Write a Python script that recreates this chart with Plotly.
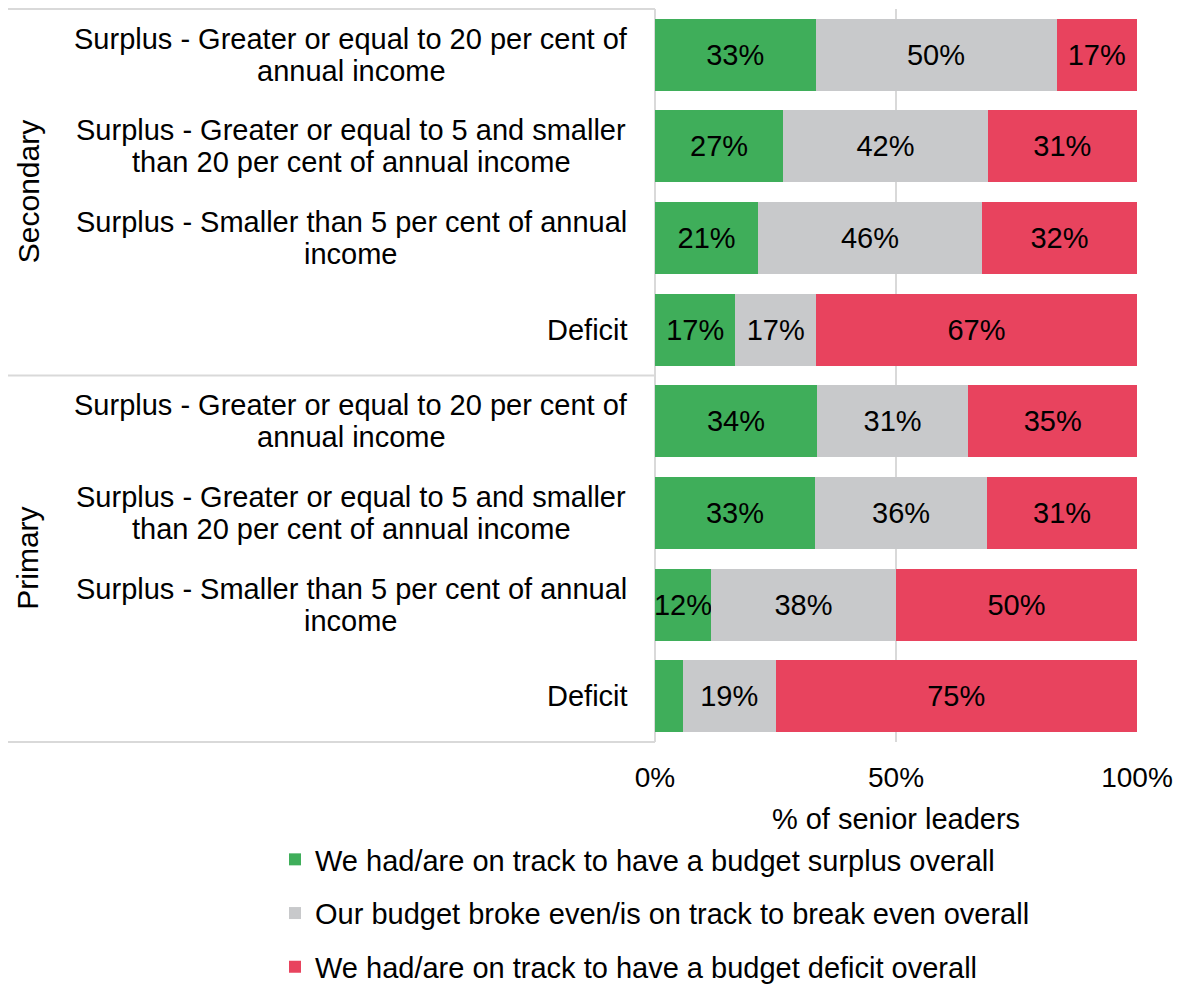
import plotly.graph_objects as go

# ---- data ----
groups = ["Secondary", "Primary"]
row_labels = [
    "Surplus - Greater or equal to 20 per cent of\nannual income",
    "Surplus - Greater or equal to 5 and smaller\nthan 20 per cent of annual income",
    "Surplus - Smaller than 5 per cent of annual\nincome",
    "Deficit",
]
row_ids = [f"{g}|{lab}" for g in groups for lab in row_labels]

series_names = [
    "We had/are on track to have a budget surplus overall",
    "Our budget broke even/is on track to break even overall",
    "We had/are on track to have a budget deficit overall",
]
surplus = [33.3, 26.6, 21.4, 16.7, 33.6, 33.2, 11.6, 5.8]
break_even = [50.0, 42.4, 46.4, 16.7, 31.4, 35.7, 38.4, 19.2]
deficit = [16.7, 31.0, 32.2, 66.6, 35.0, 31.1, 50.0, 75.0]
surplus_text = ["33%", "27%", "21%", "17%", "34%", "33%", "12%", ""]
break_even_text = ["50%", "42%", "46%", "17%", "31%", "36%", "38%", "19%"]
deficit_text = ["17%", "31%", "32%", "67%", "35%", "31%", "50%", "75%"]

x_tickvals = [0, 50, 100]
x_ticktext = ["0%", "50%", "100%"]
x_title = "% of senior leaders"

colors = ["#3FAE5A", "#C8C9CB", "#E8435E"]
FONT = "Liberation Sans, Arial, sans-serif"
FS = 29

fig = go.Figure()
for i, (name, vals, txt) in enumerate(zip(series_names, [surplus, break_even, deficit],
                                          [surplus_text, break_even_text, deficit_text])):
    fig.add_trace(go.Bar(
        y=row_ids, x=vals, name=name, orientation="h",
        marker=dict(color=colors[i], line=dict(width=0)),
        text=txt, textposition="inside", insidetextanchor="middle",
        textangle=0, constraintext="none",
        insidetextfont=dict(color="black", size=FS, family=FONT),
        legendgroup=f"g{i}", hoverinfo="x+y",
    ))

annotations = []
L, R, T, B = 655, 47, 9, 248
W = 1184 - L - R
H = 990 - T - B
def px_to_paper_x(px):
    return (px - L) / W

for rid in row_ids:
    lab = rid.split("|", 1)[1]
    lines = lab.split("\n")
    if len(lines) == 1:
        annotations.append(dict(x=0, xref="paper", y=rid, yref="y", text=lines[0],
                                xanchor="right", yanchor="middle", xshift=-25, showarrow=False,
                                font=dict(size=FS, family=FONT, color="black")))
    else:
        n = len(lines)
        for k, ln in enumerate(lines):
            shift = (n - 1) / 2 * 32 - k * 32
            annotations.append(dict(x=px_to_paper_x(351), xref="paper", y=rid, yref="y", text=ln,
                                    xanchor="center", yanchor="middle", yshift=shift, showarrow=False,
                                    font=dict(size=FS, family=FONT, color="black")))

for gi, g in enumerate(groups):
    annotations.append(dict(x=px_to_paper_x(28), xref="paper", y=0.75 - 0.5 * gi, yref="paper",
                            text=g, textangle=-90, showarrow=False, xanchor="center", yanchor="middle",
                            font=dict(size=FS + 1, family=FONT, color="black")))

shapes = []
for yv in [0, 0.5, 1]:
    shapes.append(dict(type="line", xref="paper", yref="paper", x0=px_to_paper_x(8), x1=0,
                       y0=yv, y1=yv, line=dict(color="#D9D9D9", width=2)))

fig.update_layout(
    barmode="stack", bargap=0.214,
    width=1184, height=990,
    margin=dict(l=L, r=R, t=T, b=B, pad=0, autoexpand=False),
    paper_bgcolor="white", plot_bgcolor="white",
    font=dict(family=FONT, size=FS, color="black"),
    xaxis=dict(range=[0, 100], tickvals=x_tickvals, ticktext=x_ticktext, showgrid=True,
               gridcolor="#D9D9D9", gridwidth=2, zeroline=True, zerolinecolor="#D9D9D9",
               zerolinewidth=2, showline=False, automargin=False,
               ticks="", ticklabelstandoff=16,
               title=dict(text=x_title, standoff=16, font=dict(size=FS)),
               tickfont=dict(size=FS - 1), fixedrange=True),
    yaxis=dict(categoryorder="array", categoryarray=row_ids, autorange="reversed",
               showticklabels=False, showgrid=False, zeroline=False, showline=False, ticks="",
               automargin=False, fixedrange=True),
    legend=dict(orientation="v", x=px_to_paper_x(275), xanchor="left",
                y=(742 - 834) / H, yanchor="top", traceorder="grouped",
                tracegroupgap=13, font=dict(size=FS), bgcolor="rgba(0,0,0,0)"),
    annotations=annotations, shapes=shapes,
)

fig.write_html("out.html", config={"displayModeBar": False},
               post_script="document.body.style.margin='0';document.body.style.padding='0';")
